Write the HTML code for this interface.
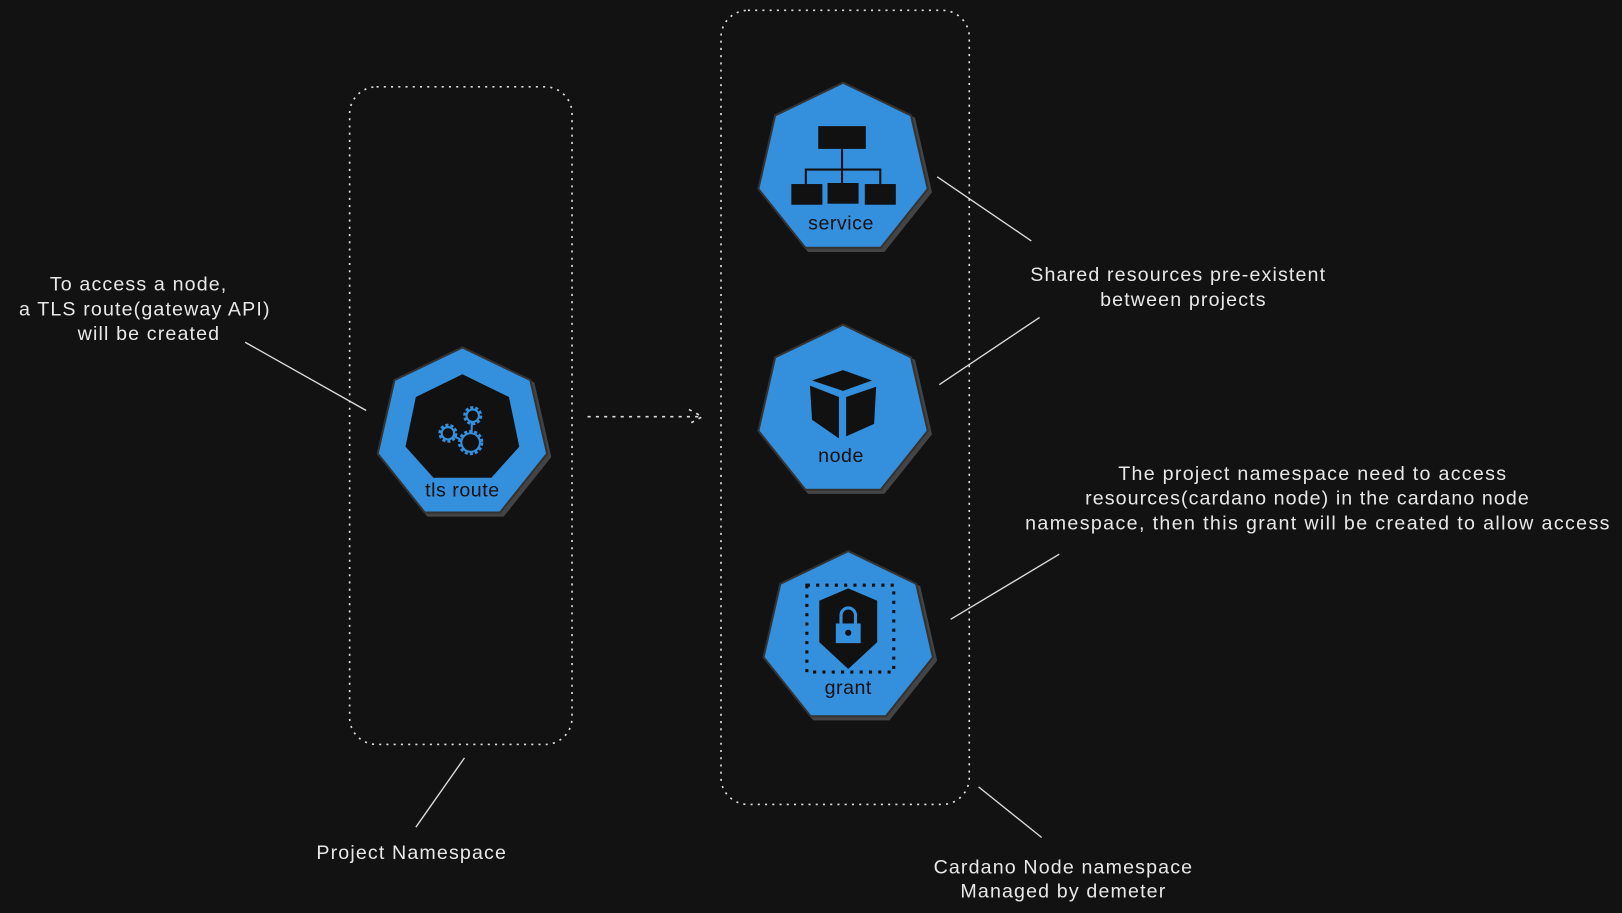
<!DOCTYPE html>
<html><head><style>
html,body{margin:0;padding:0;background:#121212;}
svg{display:block}
text{font-family:"Liberation Sans",sans-serif;fill:#e8e8e8;font-size:19px;letter-spacing:1.1px;}
.lb{fill:#111;font-size:19px;letter-spacing:0.5px;}
</style></head><body>
<svg width="1622" height="913" viewBox="0 0 1568 883" preserveAspectRatio="none">
<defs>
<polygon id="hep" points="0,-84 65.7,-52.4 81.9,18.7 36.4,75.7 -36.4,75.7 -81.9,18.7 -65.7,-52.4"/>
</defs>
<rect width="1568" height="883" fill="#121212"/>
<rect x="338" y="84" width="215" height="636" rx="26" fill="none" stroke="#ddd" stroke-width="1.6" stroke-dasharray="2 5"/>
<rect x="697" y="10" width="240" height="768" rx="26" fill="none" stroke="#ddd" stroke-width="1.6" stroke-dasharray="2 5"/>
<path d="M568 403 H678 M666 396 L679 403 L666 410" fill="none" stroke="#ddd" stroke-width="1.6" stroke-dasharray="3 5"/>

<g transform="translate(447,420)"><use href="#hep" fill="#444" stroke="#444" stroke-width="2" transform="translate(3,3)"/><use href="#hep" fill="#348fdd" stroke="#333" stroke-width="2"/>
<polygon points="0,-58 45,-36 55,12 28,42 -28,42 -55,12 -45,-36" fill="#111"/>
<g fill="none" stroke="#348fdd" stroke-width="2.5" stroke-dasharray="3 2"><circle cx="8" cy="8" r="11"/><circle cx="-14" cy="-1" r="8"/><circle cx="10" cy="-18" r="8"/></g>
<g fill="none" stroke="#348fdd" stroke-width="2"><circle cx="8" cy="8" r="9"/><circle cx="-14" cy="-1" r="6"/><circle cx="10" cy="-18" r="6"/><path d="M9 -12 V-2 M-8 2 L-2 5"/></g>
<text class="lb" x="0" y="60" text-anchor="middle">tls route</text></g>

<g transform="translate(815,164)"><use href="#hep" fill="#444" stroke="#444" stroke-width="2" transform="translate(3,3)"/><use href="#hep" fill="#348fdd" stroke="#333" stroke-width="2"/>
<rect x="-24" y="-42" width="46" height="22" fill="#111"/><path d="M-1 -20 V14 M-36 14 V0 H36 V14" stroke="#111" stroke-width="2" fill="none"/>
<rect x="-50" y="14" width="30" height="20" fill="#111"/><rect x="-15" y="13" width="30" height="20" fill="#111"/><rect x="21" y="14" width="30" height="20" fill="#111"/>
<text class="lb" x="-2" y="58" text-anchor="middle">service</text></g>

<g transform="translate(815,398)"><use href="#hep" fill="#444" stroke="#444" stroke-width="2" transform="translate(3,3)"/><use href="#hep" fill="#348fdd" stroke="#333" stroke-width="2"/>
<polygon points="0,-40 28,-30 0,-20 -30,-30" fill="#111"/><polygon points="-32,-25 -4,-14 -4,26 -30,8" fill="#111"/><polygon points="3,-14 32,-24 30,12 3,24" fill="#111"/>
<text class="lb" x="-2" y="49" text-anchor="middle">node</text></g>

<g transform="translate(820,617)"><use href="#hep" fill="#444" stroke="#444" stroke-width="2" transform="translate(3,3)"/><use href="#hep" fill="#348fdd" stroke="#333" stroke-width="2"/>
<rect x="-40" y="-51" width="84" height="84" fill="none" stroke="#111" stroke-width="3" stroke-dasharray="3 6"/>
<polygon points="0,-48 28,-36 28,4 0,30 -28,4 -28,-36" fill="#111"/>
<rect x="-12" y="-14" width="24" height="19" fill="#348fdd"/><path d="M-7 -14 V-22 A7 7 0 0 1 7 -22 V-14" fill="none" stroke="#348fdd" stroke-width="3"/><circle cx="0" cy="-5" r="3" fill="#111"/>
<text class="lb" x="0" y="54" text-anchor="middle">grant</text></g>

<g stroke="#ddd" stroke-width="1.3">
<line x1="237" y1="331" x2="354" y2="397"/>
<line x1="906" y1="171" x2="997" y2="233"/>
<line x1="908" y1="372" x2="1005" y2="307"/>
<line x1="919" y1="599" x2="1024" y2="536"/>
<line x1="449" y1="733" x2="402" y2="800"/>
<line x1="946" y1="761" x2="1007" y2="810"/>
</g>
<g text-anchor="middle">
<text x="134" y="281">To access a node,</text>
<text x="140" y="305">a TLS route(gateway API)</text>
<text x="144" y="329">will be created</text>
<text x="1139" y="272">Shared resources pre-existent</text>
<text x="1144" y="296">between projects</text>
<text x="1269" y="464" textLength="376">The project namespace need to access</text>
<text x="1264" y="488" textLength="430">resources(cardano node) in the cardano node</text>
<text x="1274" y="512" textLength="566">namespace, then this grant will be created to allow access</text>
<text x="398" y="831">Project Namespace</text>
<text x="1028" y="845">Cardano Node namespace</text>
<text x="1028" y="868">Managed by demeter</text>
</g>
</svg>
</body></html>
